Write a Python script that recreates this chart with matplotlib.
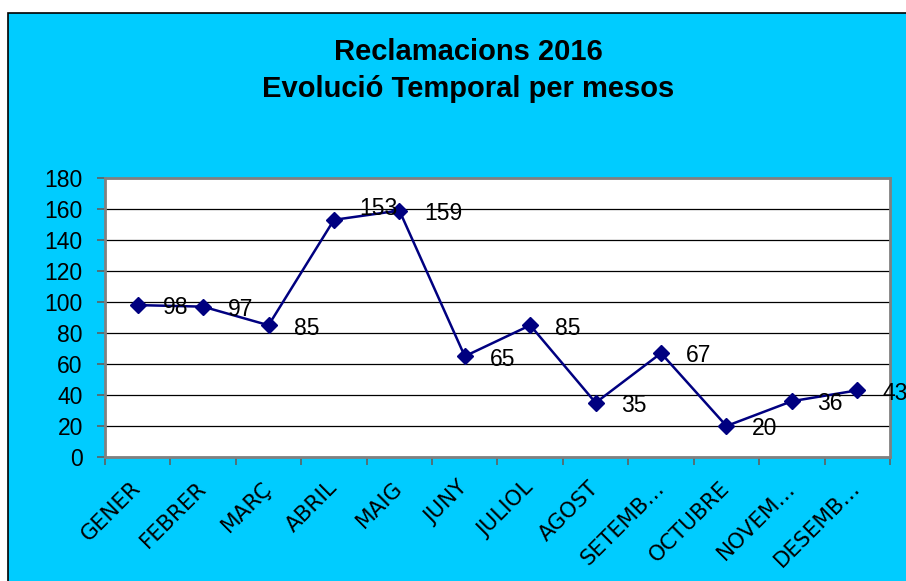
import matplotlib
matplotlib.use('Agg')
import matplotlib.pyplot as plt
from matplotlib.patches import Rectangle

months = ['GENER', 'FEBRER', 'MARÇ', 'ABRIL', 'MAIG', 'JUNY', 'JULIOL', 'AGOST',
          'SETEMB…', 'OCTUBRE', 'NOVEM…', 'DESEMB…']
claims = [98, 97, 85, 153, 159, 65, 85, 35, 67, 20, 36, 43]
y_ticks = [0, 20, 40, 60, 80, 100, 120, 140, 160, 180]

W, H = 906, 581
fig = plt.figure(figsize=(W / 100, H / 100), dpi=100)
fig.patch.set_facecolor('white')

# cyan chart background with black border (cropped on right/bottom)
bg = Rectangle((8 / W, -0.01), 1.0, 1 - 13 / H + 0.01,
               transform=fig.transFigure, facecolor='#00CCFF',
               edgecolor='black', linewidth=1.2, zorder=-5)
fig.add_artist(bg)

fig.text(468 / W, 1 - 52 / H, 'Reclamacions 2016', ha='center', va='center',
         fontsize=21, fontweight='bold', family='Liberation Sans')
fig.text(468 / W, 1 - 89 / H, 'Evolució Temporal per mesos', ha='center', va='center',
         fontsize=21, fontweight='bold', family='Liberation Sans')

ax = fig.add_axes([105 / W, 1 - 457 / H, 785 / W, 279 / H])
ax.set_zorder(2)
ax.set_facecolor('white')
x = list(range(len(months)))
ax.plot(x, claims, color='#000080', linewidth=1.8, marker='D', markersize=8, zorder=3)

for xi, v in zip(x, claims):
    dy = 8 if v == 153 else -2   # the ABRIL label sits a bit higher
    ax.annotate(str(v), (xi, v), xytext=(18, dy), textcoords='offset points',
                ha='left', va='center', fontsize=16.5, family='Liberation Sans',
                annotation_clip=False, clip_on=False)

ax.set_xlim(-0.5, len(months) - 0.5)
ax.set_ylim(0, 180)
ax.set_yticks(y_ticks)
ax.set_yticklabels([str(t) for t in y_ticks], fontsize=16.5, family='Liberation Sans')
ax.grid(axis='y', color='black', linewidth=0.9)
ax.set_axisbelow(True)

ax.set_xticks(x)
ax.set_xticklabels(months, rotation=45, ha='right', va='center', rotation_mode='anchor',
                   fontsize=15.5, family='DejaVu Sans')
ax.tick_params(axis='x', which='major', length=0, pad=20)
ax.set_xticks([i - 0.5 for i in range(len(months) + 1)], minor=True)
ax.tick_params(axis='x', which='minor', length=6, color='#606060', width=1.2)
ax.tick_params(axis='y', length=6, color='#606060', width=1.2, pad=10)

for s in ax.spines.values():
    s.set_color('#808080')
    s.set_linewidth(2)

fig.savefig('out.png', dpi=100)
